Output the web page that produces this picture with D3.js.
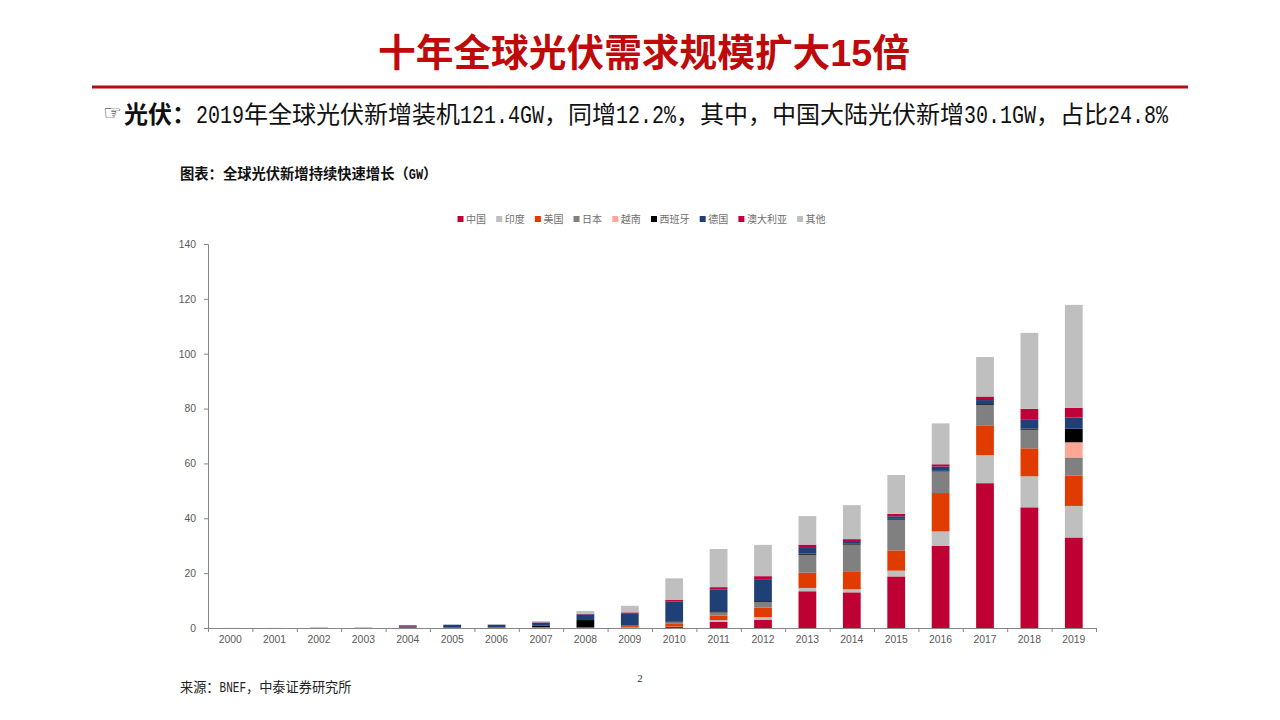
<!DOCTYPE html>
<html><head><meta charset="utf-8">
<script src="https://cdn.jsdelivr.net/npm/d3@7/dist/d3.min.js"></script>
<style>html,body{margin:0;background:#fff}svg{display:block}</style></head>
<body><svg id="c" width="1280" height="720"></svg>
<script>
const years = ["2000","2001","2002","2003","2004","2005","2006","2007","2008","2009","2010","2011","2012","2013","2014","2015","2016","2017","2018","2019"];
const seriesNames = ["中国","印度","美国","日本","越南","西班牙","德国","澳大利亚","其他"];
const seriesColors = ["#BE0032","#BFBFBF","#E03C00","#808080","#FFA797","#000000","#1F3F77","#C00039","#BFBFBF"];
const china     = [0,0,0,0,0,0,0,0,0.05,0.1,0.4,2.3,3.0,13.4,13,18.8,29.9,52.8,44,33];
const india     = [0,0,0,0,0,0,0,0,0,0.1,0.1,0.6,1.0,1.2,1.1,2.1,5.3,10.2,11.3,11.5];
const usa       = [0,0,0,0,0,0,0,0.1,0.05,0.5,1.0,1.6,3.4,5.6,6.6,7.4,14,10.9,10.2,11];
const japan     = [0,0,0,0,0.1,0.1,0.2,0.2,0.1,0.1,0.6,1.2,2.1,6.5,9.7,11.2,7.9,7.4,6.8,6.7];
const vietnam   = [0,0,0,0,0,0,0,0,0,0,0,0,0,0,0,0,0,0,0,5.5];
const spain     = [0,0,0,0,0,0,0.1,0.5,2.7,0.1,0.3,0.4,0.3,0.4,0.3,0.3,0.2,0.3,0.4,5];
const germany   = [0,0,0,0,0.5,1.1,0.9,1.2,2.1,4.5,7.2,8,8,2.4,1,0.9,1.6,1.5,3.2,4];
const australia = [0,0,0,0,0.4,0,0.05,0.1,0.2,0.3,0.6,0.8,1.1,0.9,0.7,0.9,0.8,1.3,4,3.6];
const other     = [0.05,0.05,0.3,0.3,0.05,0.1,0.2,0.4,1,2.4,7.9,13.9,11.4,10.4,12.4,14.2,14.9,14.4,27.7,37.5];
const seriesValues = [china,india,usa,japan,vietnam,spain,germany,australia,other];
const yTicks = [0,20,40,60,80,100,120,140];

const svg = d3.select("#c");
const CJK = '"Noto Sans CJK SC"';
const x = d3.scaleBand().domain(years).range([208,1096]).paddingInner(0.6).paddingOuter(0.3);
const edges = d3.scaleLinear().domain([0,years.length]).range([208,1096]);
const y = d3.scaleLinear().domain([0,140]).range([628,244]);

const rows = years.map((yr,i)=>{const r={year:yr};seriesNames.forEach((s,k)=>r[s]=seriesValues[k][i]);return r;});
const stacked = d3.stack().keys(seriesNames)(rows);
svg.append("g").selectAll("g").data(stacked).join("g")
  .attr("fill",(d,i)=>seriesColors[i])
  .selectAll("rect").data(d=>d).join("rect")
  .attr("x",d=>x(d.data.year)).attr("width",x.bandwidth())
  .attr("y",d=>y(d[1])).attr("height",d=>Math.max(0,y(d[0])-y(d[1])));

const axisColor="#868686", labelColor="#595959";
const gy = svg.append("g").attr("transform","translate(208,0)")
  .call(d3.axisLeft(y).tickValues(yTicks).tickSize(4).tickPadding(8));
const gxEdge = svg.append("g").attr("transform","translate(0,628)")
  .call(d3.axisBottom(edges).tickValues(d3.range(years.length+1)).tickSize(4).tickFormat(""));
const gx = svg.append("g").attr("transform","translate(0,628)")
  .call(d3.axisBottom(x).tickSize(0).tickPadding(8));
gx.select(".domain").remove();
[gy,gxEdge,gx].forEach(g=>{
  g.selectAll(".domain").attr("stroke",axisColor);
  g.selectAll(".tick line").attr("stroke",axisColor);
  g.selectAll("text").attr("fill",labelColor)
    .attr("font-family",'"Liberation Sans"').attr("font-size",10.4);
});

// legend
const legendX=[458,496.7,535.4,574,612.8,651.5,700.2,738.9,797.6];
const leg = svg.append("g").selectAll("g").data(seriesNames).join("g")
  .attr("transform",(d,i)=>`translate(${legendX[i]-0.5},219)`);
leg.append("rect").attr("y",-3).attr("width",6).attr("height",6).attr("fill",(d,i)=>seriesColors[i]);
leg.append("text").attr("x",8.5).attr("y",3.8).attr("font-size",10)
  .attr("font-family",CJK).attr("fill","#6f6f6f").text(d=>d);

// mixed text: cjk em-wide + narrow tall half-width latin
function line(x0,base,size,runs,color){
  let cx=x0;
  runs.forEach(([t,kind])=>{
    if(kind==="lat"||kind==="latbold"){
      const fs=size*1.04, sx=(size/2)/(fs*0.6);
      svg.append("text").attr("transform",`translate(${cx},${base}) scale(${sx},1)`)
        .attr("font-family",'"Liberation Mono"').attr("font-size",fs).attr("fill",color)
        .attr("font-weight",kind==="latbold"?700:400).text(t);
      cx+=t.length*size/2;
    } else {
      svg.append("text").attr("x",cx).attr("y",base).attr("font-family",CJK)
        .attr("font-size",size).attr("fill",color).attr("font-weight",kind==="bold"?700:400).text(t);
      cx+=t.length*size;
    }
  });
}

// title
const titleG = svg.append("text").attr("x",378).attr("y",66).attr("fill","#BE0A0A").attr("font-weight",700).attr("font-size",37.7);
titleG.append("tspan").attr("font-family",CJK).text("十年全球光伏需求规模扩大");
titleG.append("tspan").attr("font-family",'"Liberation Sans"').text("15");
titleG.append("tspan").attr("font-family",CJK).text("倍");
svg.append("rect").attr("x",92).attr("y",85.5).attr("width",1096).attr("height",3).attr("fill","#B80C0C");

// subtitle
svg.append("text").attr("x",103).attr("y",120).attr("font-family",'"DejaVu Sans"').attr("font-size",21).attr("fill","#111").text("☞");
line(124,123,24,[["光伏：","bold"],["2019","lat"],["年全球光伏新增装机","cjk"],["121.4GW","lat"],["，同增","cjk"],["12.2%","lat"],["，其中，中国大陆光伏新增","cjk"],["30.1GW","lat"],["，占比","cjk"],["24.8%","lat"]],"#111");

line(180,179,14.3,[["图表：全球光伏新增持续快速增长（","bold"],["GW","latbold"],["）","bold"]],"#111");
line(180,692,13.2,[["来源：","cjk"],["BNEF","lat"],["，中泰证券研究所","cjk"]],"#222");
svg.append("text").attr("x",640).attr("y",682).attr("text-anchor","middle").attr("font-family",'"Liberation Serif"').attr("font-size",11).attr("fill","#333").text("2");
</script></body></html>
